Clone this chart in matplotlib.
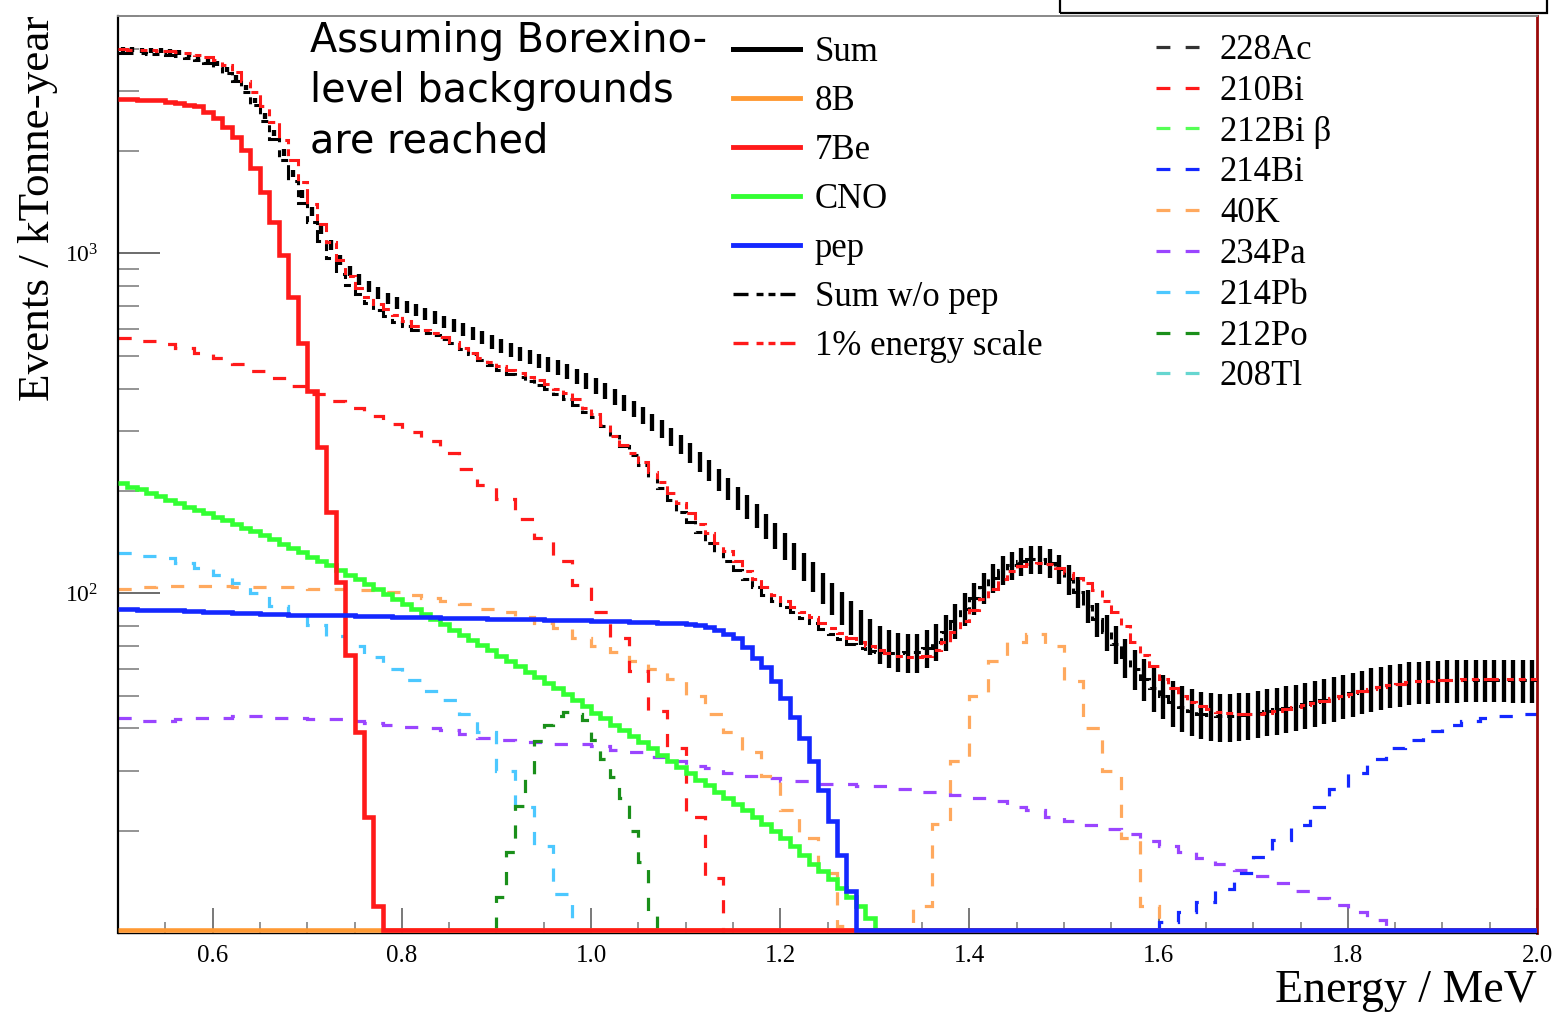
import numpy as np
import matplotlib
matplotlib.use("Agg")
import matplotlib.pyplot as plt
from matplotlib.lines import Line2D
from matplotlib.patches import Rectangle
from matplotlib.ticker import (MultipleLocator, LogLocator, NullFormatter,
                               FixedLocator, LogFormatterMathtext,
                               FormatStrFormatter)

plt.rcParams["font.family"] = ["Liberation Serif", "DejaVu Serif"]
plt.rcParams["mathtext.fontset"] = "custom"
plt.rcParams["mathtext.rm"] = "Liberation Serif"
plt.rcParams["mathtext.it"] = "Liberation Serif:italic"
plt.rcParams["mathtext.bf"] = "Liberation Serif:bold"
plt.rcParams["lines.scale_dashes"] = False

# ---------------------------------------------------------------- binning
E_LO, E_HI = 0.50, 2.00
FINE = 0.01      # 10 keV bins
COARSE = 0.02    # 20 keV bins
Y_MIN, Y_MAX = 10.0, 5000.0
EXPOSURE = 0.89  # kTonne-year used for the statistical error bars

# ---------------------------------------------------------------- totals (10 keV bins, 0.50-2.00 MeV)
sum_events = [
    3990, 3980, 3970, 3960, 3950, 3930, 3900, 3860, 3810, 3730,
    3620, 3480, 3300, 3080, 2820, 2540, 2260, 1980, 1720, 1500,
    1330, 1180, 1060, 960, 890, 840, 800, 765, 738, 715,
    698, 682, 665, 648, 630, 614, 598, 582, 566, 550,
    535, 520, 507, 495, 484, 472, 462, 450, 436, 422,
    408, 394, 379, 364, 349, 334, 319, 304, 289, 274,
    259, 244, 230, 216, 203, 191, 180, 169, 158, 148,
    138, 129, 120, 112, 104, 97, 91, 85, 80, 75,
    71, 69, 67.5, 67, 67, 69, 72, 77, 83, 90,
    97, 104, 111, 117, 121, 124, 126, 126, 123, 118,
    110, 101, 92, 84, 77, 71, 65, 60, 56, 52.5,
    50, 47.8, 46.2, 45, 44.2, 43.7, 43.5, 43.5, 43.7, 44,
    44.5, 45, 45.5, 46, 46.6, 47.2, 47.8, 48.5, 49.2, 50,
    50.8, 51.6, 52.4, 53.1, 53.7, 54.2, 54.7, 55, 55.2, 55.4,
    55.5, 55.5, 55.6, 55.6, 55.6, 55.6, 55.6, 55.5, 55.5, 55.5,
]

sum_without_pep = [
    3900, 3890, 3880, 3870, 3860, 3840, 3810, 3770, 3720, 3640,
    3530, 3390, 3210, 2990, 2730, 2450, 2170, 1890, 1630, 1410,
    1240, 1090, 970, 870, 810, 760, 715, 680, 655, 630,
    610, 596, 585, 575, 562, 545, 525, 505, 487, 470,
    455, 443, 432, 421, 410, 398, 385, 372, 358, 342,
    330, 310, 290, 272, 255, 238, 220, 204, 188, 174,
    162, 151, 141, 132, 124, 117, 110, 104, 99, 95,
    91, 88, 84.5, 81.5, 78.5, 76, 73.5, 71, 69, 67.5,
    67, 66.5, 66.5, 67, 67, 69, 72, 77, 83, 90,
    97, 104, 111, 117, 121, 124, 126, 126, 123, 118,
    110, 101, 92, 84, 77, 71, 65, 60, 56, 52.5,
    50, 47.8, 46.2, 45, 44.2, 43.7, 43.5, 43.5, 43.7, 44,
    44.5, 45, 45.5, 46, 46.6, 47.2, 47.8, 48.5, 49.2, 50,
    50.8, 51.6, 52.4, 53.1, 53.7, 54.2, 54.7, 55, 55.2, 55.4,
    55.5, 55.5, 55.6, 55.6, 55.6, 55.6, 55.6, 55.5, 55.5, 55.5,
]

energy_scale_1pct = [
    3990, 3980, 3970, 3960, 3950, 3935, 3910, 3880, 3840, 3780,
    3700, 3580, 3420, 3220, 2980, 2720, 2440, 2160, 1880, 1620,
    1400, 1220, 1080, 960, 860, 790, 745, 712, 685, 660,
    632, 612, 596, 582, 566, 548, 528, 510, 494, 479,
    466, 455, 444, 433, 423, 412, 400, 388, 372, 352,
    336, 313, 290, 274, 258, 243, 227, 212, 197, 184,
    172, 160, 150, 141, 133, 124, 116, 110, 104, 99,
    95, 91, 88, 85, 82, 79, 76.5, 74, 72, 70,
    68, 66.5, 65.5, 65, 65, 65.5, 68, 72, 77, 83,
    89, 96, 103, 110, 116, 120, 122, 123, 122, 119,
    115, 111, 107, 102, 95, 88, 80, 72, 66, 61,
    56, 52.5, 50, 48, 46.5, 45.5, 44.8, 44.3, 44, 44,
    44.2, 44.5, 45, 45.5, 46.2, 46.8, 47.5, 48.2, 49, 49.8,
    50.6, 51.4, 52.2, 53, 53.7, 54.2, 54.7, 55, 55.2, 55.4,
    55.6, 55.7, 55.8, 55.9, 56, 56, 56, 56, 56, 56,
]

# ---------------------------------------------------------------- solar neutrinos
# 7Be, 10 keV bins from 0.50 MeV (zero above the Compton edge)
be7 = [
    2840, 2840, 2835, 2830, 2825, 2800, 2780, 2740, 2710, 2615,
    2510, 2362, 2207, 2023, 1790, 1522, 1242, 993, 747, 547,
    393, 269, 173, 108, 66, 39, 22, 12,
]

# CNO, 10 keV bins from 0.50 MeV
cno = [
    211, 206, 202, 197, 193, 188, 184, 180, 176, 172,
    168, 164, 160, 156, 152, 148, 144, 140, 136, 132,
    128, 124.5, 121, 117, 113.5, 110, 106.5, 103, 99.5, 96,
    93, 90, 87, 84, 81, 78, 75.5, 73, 70.5, 68,
    65.5, 63, 61, 58.5, 56.5, 54.5, 52.5, 50.5, 48.5, 46.5,
    44.5, 43, 41, 39.5, 38, 36.5, 35, 33.5, 32, 30.8,
    29.5, 28.3, 27.2, 26, 25, 24, 23, 22, 21, 20,
    19, 18, 17, 16, 15.2, 14.4, 13.6, 12.8, 12, 11.1,
    9.5,
]

# pep, 10 keV bins from 0.50 MeV
pep = [
    90, 90, 89.5, 89.5, 89, 89, 89, 88.5, 88.5, 88,
    88, 88, 87.5, 87.5, 87.5, 87, 87, 87, 86.5, 86.5,
    86.5, 86, 86, 86, 86, 85.5, 85.5, 85.5, 85.5, 85,
    85, 85, 85, 85, 84.5, 84.5, 84.5, 84.5, 84.5, 84,
    84, 84, 84, 84, 84, 83.5, 83.5, 83.5, 83.5, 83.5,
    83, 83, 83, 83, 82.5, 82.5, 82.5, 82, 82, 81.5,
    81, 80.5, 79.5, 78, 75.7, 74, 69.5, 64.6, 60.6, 55.2,
    49, 43.3, 37.6, 32, 26.3, 21.3, 17, 13.3, 8,
]

# 8B, 100 keV bins from 0.50 MeV
b8 = [2.2, 2.2, 2.1, 2.1, 2.0, 2.0, 1.9, 1.9, 1.8, 1.8, 1.7, 1.7, 1.6, 1.6, 1.5]

# ---------------------------------------------------------------- backgrounds
bi210 = [565, 552, 540, 527, 510, 492, 472, 452, 430, 408,
         385, 368, 350, 332, 315, 298, 280, 258, 232, 208,
         190, 165, 145, 124, 106, 88, 74, 59, 45, 35,
         22, 14.5, 9]
bi210_start, bi210_width = 0.50, COARSE

k40 = [103, 104, 105, 105, 105, 105, 104, 104, 104, 104,
       103, 103, 102, 102, 101, 99, 97, 95, 93, 90,
       88, 85, 82, 79, 74, 70, 67, 63, 60, 56,
       50, 44, 39, 34, 29, 23, 19, 15, 10.5, 7,
       6, 8, 12, 21, 32, 50, 63, 72, 76, 70,
       55, 40, 30, 19, 12, 8]
k40_start, k40_width = 0.50, COARSE

pa234 = [43, 42, 42, 42.5, 43, 43, 43.5, 43.5, 43, 43,
         42.5, 42.5, 42, 41.5, 41, 40.5, 40, 39.5, 38.5, 37.5,
         37, 36.5, 36.5, 36, 36, 35.5, 34.5, 34, 33, 32,
         31, 30.5, 29.5, 29, 28.5, 28, 28, 27.5, 27.5, 27,
         27, 26.5, 26, 26, 25.5, 25, 24.5, 23.5, 23, 22,
         21.3, 20.8, 20.2, 19.5, 18.7, 18, 17.3, 16.6, 16, 15.3,
         14.7, 14, 13.3, 12.7, 12.1, 11.5, 10.9, 9.5, 9, 8.4,
         7.9, 7.4, 6.9, 6.4, 6.0]
pa234_start, pa234_width = 0.50, COARSE

pb214 = [131, 129, 127, 123, 119, 113, 107, 100, 92, 86,
         80.5, 75, 70, 65, 60, 55.5, 51.5, 48.5, 44, 39,
         30, 23.5, 18, 13, 8]
pb214_start, pb214_width = 0.50, COARSE

po212 = [9, 12.8, 17.3, 23.7, 29, 36.7, 41, 43.5, 44.6, 44,
         42.3, 37, 32.5, 28.8, 25, 20, 16.2, 11.6, 8]
po212_start, po212_width = 0.89, FINE

bi214 = [9, 9.8, 10.8, 11.5, 12.3, 13.5, 15, 16.7, 18.8, 20.8,
         23.5, 26.5, 29.5, 32.5, 35, 37, 39.3, 41, 42, 43,
         43.5, 44]
bi214_start, bi214_width = 1.56, COARSE

# ---------------------------------------------------------------- colours
C_RED = "#ff1a1a"
C_BLUE = "#1428ff"
C_GREEN = "#33ff33"
C_ORANGE = "#ff9933"
C_40K = "#ffa95e"
C_PA = "#9a45ff"
C_PB = "#4cc8ff"
C_PO = "#1a8f1a"
C_BIB = "#55ff55"
C_TL = "#66d6d0"
C_AC = "#333333"

DASH = (0, (9.5, 10.5))
DASHDOT = (0, (10.8, 5.8, 5.0, 3.6, 5.0, 3.6))


def bin_edges(start, width, n):
    return start + width * np.arange(n + 1)


def pad_to_range(values, width):
    n_total = int(round((E_HI - E_LO) / width))
    out = np.zeros(n_total)
    out[:len(values)] = values
    return out


fig = plt.figure(figsize=(15.56, 10.15), dpi=100)
ax = fig.add_axes([118 / 1556, 82 / 1015, 1419 / 1556, 917 / 1015])
ax.set_yscale("log")
ax.set_xlim(E_LO, E_HI)
ax.set_ylim(Y_MIN, Y_MAX)

# background histograms (dashed)
backgrounds = [
    (pa234, pa234_start, pa234_width, C_PA),
    (pb214, pb214_start, pb214_width, C_PB),
    (k40, k40_start, k40_width, C_40K),
    (po212, po212_start, po212_width, C_PO),
    (bi214, bi214_start, bi214_width, C_BLUE),
    (bi210, bi210_start, bi210_width, C_RED),
]
for vals, start, width, color in backgrounds:
    ax.stairs(vals, bin_edges(start, width, len(vals)), baseline=None,
              color=color, lw=2.3, linestyle=DASH, zorder=2)

# neutrino spectra (solid); contents below the axis minimum sit on the frame
floor = Y_MIN * 1.02
solar = [
    (b8, 0.1, C_ORANGE),
    (cno, FINE, C_GREEN),
    (be7, FINE, C_RED),
    (pep, FINE, C_BLUE),
]
for vals, width, color in solar:
    full = pad_to_range(vals, width)
    ax.stairs(np.maximum(full, floor), bin_edges(E_LO, width, len(full)),
              baseline=None, color=color, lw=3.3, zorder=3)

# total with statistical errors
sum_arr = np.asarray(sum_events, dtype=float)
centers = E_LO + FINE * (np.arange(len(sum_arr)) + 0.5)
ax.errorbar(centers, sum_arr, yerr=np.sqrt(sum_arr / EXPOSURE), fmt="none",
            ecolor="black", elinewidth=3.1, capsize=0, zorder=5)

ax.stairs(sum_without_pep, bin_edges(E_LO, FINE, len(sum_without_pep)),
          baseline=None, color="black", lw=2.2, linestyle=DASHDOT, zorder=6)
ax.stairs(energy_scale_1pct, bin_edges(E_LO, FINE, len(energy_scale_1pct)),
          baseline=None, color=C_RED, lw=2.2, linestyle=DASHDOT, zorder=7)

# ---------------------------------------------------------------- axes styling
ax.xaxis.set_major_locator(MultipleLocator(0.2))
ax.xaxis.set_minor_locator(MultipleLocator(0.05))
ax.xaxis.set_major_formatter(FormatStrFormatter("%.1f"))
ax.yaxis.set_major_locator(FixedLocator([100, 1000]))
ax.yaxis.set_minor_locator(LogLocator(base=10, subs=np.arange(2, 10)))
ax.yaxis.set_major_formatter(LogFormatterMathtext())
ax.yaxis.set_minor_formatter(NullFormatter())

ax.tick_params(axis="x", which="major", direction="in", length=18, width=1.1,
               color="#555555", labelsize=18, pad=9)
ax.tick_params(axis="x", which="minor", direction="in", length=8, width=1.1,
               color="#777777")
ax.tick_params(axis="y", which="major", direction="in", length=30, width=1.1,
               color="#444444", labelsize=17, pad=14)
ax.tick_params(axis="y", which="minor", direction="in", length=15, width=1.1,
               color="#777777")
ax.tick_params(top=False, right=False)

ax.spines["left"].set_color("black")
ax.spines["left"].set_linewidth(1.6)
ax.spines["top"].set_color("#888888")
ax.spines["top"].set_linewidth(1.4)
ax.spines["right"].set_color("#9a0a0a")
ax.spines["right"].set_linewidth(2.0)
ax.spines["bottom"].set_color("black")
ax.spines["bottom"].set_linewidth(1.0)

ax.set_ylabel("Events / kTonne-year", fontsize=32.5, loc="top")
ax.yaxis.set_label_coords(-0.0423, 1.0)
ax.set_xlabel("Energy / MeV", fontsize=33, loc="right")
ax.xaxis.set_label_coords(1.0, -0.040)

# ---------------------------------------------------------------- legends
left_handles = [
    Line2D([], [], color="black", lw=3.6),
    Line2D([], [], color=C_ORANGE, lw=3.5),
    Line2D([], [], color=C_RED, lw=3.5),
    Line2D([], [], color=C_GREEN, lw=3.5),
    Line2D([], [], color=C_BLUE, lw=3.5),
    Line2D([], [], color="black", lw=2.4, linestyle=DASHDOT),
    Line2D([], [], color=C_RED, lw=2.4, linestyle=DASHDOT),
]
left_labels = ["Sum", "8B", "7Be", "CNO", "pep", "Sum w/o pep", "1% energy scale"]
leg1 = ax.legend(left_handles, left_labels, loc="upper left",
                 bbox_to_anchor=((733 - 118) / 1419, (933 - 36) / 917),
                 frameon=False, fontsize=25, handlelength=1.93,
                 handletextpad=0.42, labelspacing=0.46, borderpad=0,
                 borderaxespad=0)
ax.add_artist(leg1)

right_colors = [C_AC, C_RED, C_BIB, C_BLUE, C_40K, C_PA, C_PB, C_PO, C_TL]
right_labels = ["228Ac", "210Bi", "212Bi \u03b2", "214Bi", "40K", "234Pa",
                "214Pb", "212Po", "208Tl"]
right_handles = [Line2D([], [], color=c, lw=2.3, linestyle=(0, (10, 11)))
                 for c in right_colors]
ax.legend(right_handles, right_labels, loc="upper left",
          bbox_to_anchor=((1156 - 118) / 1419, (933 - 34) / 917),
          frameon=False, fontsize=25, handlelength=1.24, handletextpad=0.6,
          labelspacing=0.225, borderpad=0, borderaxespad=0)

fig.text(310 / 1556, 1 - 21 / 1015,
         "Assuming Borexino-\nlevel backgrounds\nare reached",
         family="DejaVu Sans", fontsize=28.6, ha="left", va="top",
         linespacing=1.33)

fig.add_artist(Rectangle((1060 / 1556, 1 - 13 / 1015), (1547 - 1060) / 1556,
                         0.05, transform=fig.transFigure, fill=False,
                         lw=1.6, ec="black", clip_on=False))

fig.savefig("out.png", dpi=100)
